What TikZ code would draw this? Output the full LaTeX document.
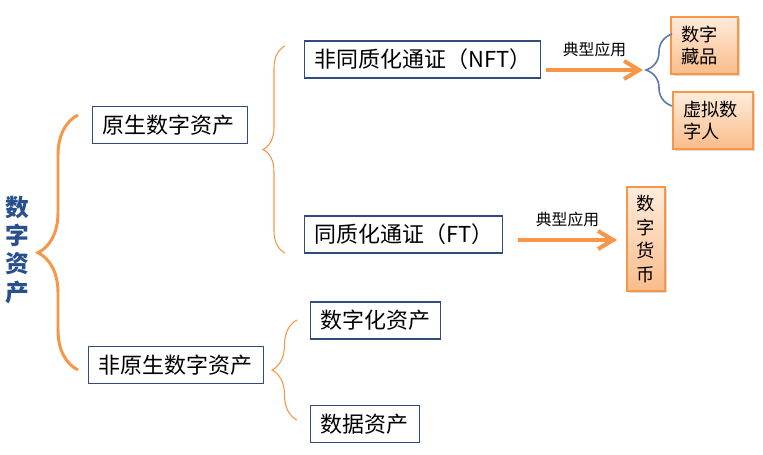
\documentclass[tikz,border=0pt]{standalone}
\usepackage{fontspec}
\setmainfont{Noto Sans CJK SC}
\usetikzlibrary{arrows.meta}
\usetikzlibrary{decorations.pathreplacing}
\usetikzlibrary{shadows}
\definecolor{boxnavy}{RGB}{50,75,125}
\definecolor{braceorange}{RGB}{247,150,70}
\definecolor{apptop}{RGB}{254,236,220}
\definecolor{appbottom}{RGB}{250,188,138}
\definecolor{titleblue}{RGB}{40,80,140}
\definecolor{bracesteel}{RGB}{90,120,170}
\tikzset{>={Straight Barb[length=0.3cm,width=0.36cm]}}
\tikzset{
  assetbox/.style={draw=boxnavy, line width=0.6pt, anchor=west, align=left,
    inner xsep=0.2cm, minimum height=0.74cm, font=\fontsize{12.5}{15}\selectfont},
  appbox/.style={draw=braceorange, line width=0.6pt, top color=apptop, bottom color=appbottom,
    drop shadow={shadow xshift=1.2pt, shadow yshift=-1.2pt, opacity=0.3},
    align=left, inner xsep=0.2cm, font=\fontsize{10.4}{12.3}\selectfont},
  apparrow/.style={->, draw=braceorange, line width=2.3pt},
  applabel/.style={font=\fontsize{9}{10}\selectfont, above=3pt},
  curly/.style={decorate, decoration={brace, amplitude=#1}},
}

\begin{document}
\begin{tikzpicture}[x=0.02cm, y=-0.02cm]
        \useasboundingbox (0,0) rectangle (763,455);
        % title
        \node[titleblue, align=center, font=\bfseries\fontsize{13.5}{16}\selectfont] (title) at (17,250) {数\\字\\资\\产};
        % assets
        \node[assetbox, text width=2.7cm] (native) at (92,125) {原生数字资产};
        \node[assetbox, text width=3.1cm] (nonnative) at (88,365) {非原生数字资产};
        \node[assetbox, text width=4.32cm] (nft) at (304,59.5) {非同质化通证（NFT）};
        \node[assetbox, text width=3.56cm] (ft) at (304,234.5) {同质化通证（FT）};
        \node[assetbox, text width=2.2cm] (digitized) at (310,320.5) {数字化资产};
        \node[assetbox, text width=1.78cm] (data) at (310,424) {数据资产};
        % applications
        \node[appbox, minimum width=1.34cm, minimum height=1.14cm, text width=0.94cm] (collectible) at (704.5,45.5) {数字\\藏品};
        \node[appbox, minimum width=1.6cm, minimum height=1.14cm, text width=1.2cm] (avatar) at (713,120.5) {虚拟数\\字人};
        \node[appbox, minimum width=0.76cm, minimum height=2.08cm, align=center, inner xsep=0pt,
          font=\fontsize{10.4}{13.6}\selectfont] (currency) at (646,239) {数\\字\\货\\币};
        % braces
        \coordinate (bigtop) at (78,115);
        \coordinate (bigbottom) at (78,370);
        \draw[braceorange, line width=1.7pt, decorate, decoration={brace, amplitude=0.8cm, aspect=0.46}] (bigbottom) -- (bigtop);
        \coordinate (tokentop) at (285,46);
        \coordinate (tokenbottom) at (285,253);
        \draw[curly=0.44cm, braceorange, line width=0.6pt] (tokenbottom) -- (tokentop);
        \coordinate (othertop) at (297,320);
        \coordinate (otherbottom) at (297,420);
        \draw[curly=0.5cm, braceorange, line width=0.6pt] (otherbottom) -- (othertop);
        \coordinate (apptop) at (672,34);
        \coordinate (appbottom) at (672,106);
        \draw[curly=0.52cm, bracesteel, line width=0.9pt] (appbottom) -- (apptop);
        % arrows
        \coordinate (nfttip) at (643,70);
        \coordinate (fttip) at (617,240);
        \draw[apparrow] (nft.east |- nfttip) ++(5,0) -- (nfttip) node[applabel, midway, text=black] {典型应用};
        \draw[apparrow] (ft.east |- fttip) ++(15,0) -- (fttip) node[applabel, midway, text=black] {典型应用};
      \end{tikzpicture}
\end{document}
